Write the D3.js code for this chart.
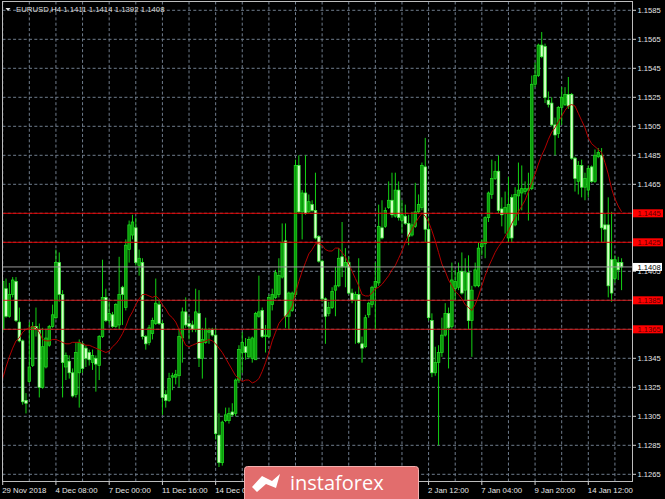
<!DOCTYPE html>
<html><head><meta charset="utf-8">
<script src="https://cdn.jsdelivr.net/npm/d3@7"></script>
<style>html,body{margin:0;padding:0;background:#000;overflow:hidden}svg{display:block}</style>
</head><body>
<svg id="c" width="665" height="499"></svg>
<script>
const title = "EURUSD,H4";
const lastOHLC = ["1.1411", "1.1414", "1.1392", "1.1408"];

const opens = [1.1365,1.1393,1.1374,1.1389,1.1398,1.1370,1.1357,1.1316,1.1329,1.1340,
1.1367,1.1365,1.1325,1.1339,1.1354,1.1367,1.1373,1.1411,1.1389,1.1339,
1.1343,1.1335,1.1320,1.1335,1.1355,1.1352,1.1349,1.1342,1.1345,1.1340,
1.1360,1.1387,1.1371,1.1375,1.1367,1.1368,1.1394,1.1380,1.1420,1.1430,
1.1435,1.1409,1.1411,1.1360,1.1356,1.1362,1.1369,1.1382,1.1369,1.1320,
1.1316,1.1332,1.1332,1.1333,1.1359,1.1377,1.1369,1.1368,1.1365,1.1376,
1.1345,1.1356,1.1363,1.1365,1.1361,1.1292,1.1273,1.1302,1.1302,1.1308,
1.1307,1.1330,1.1349,1.1353,1.1346,1.1345,1.1344,1.1374,1.1378,1.1360,
1.1360,1.1382,1.1387,1.1389,1.1401,1.1426,1.1374,1.1378,1.1389,1.1478,
1.1446,1.1459,1.1446,1.1451,1.1447,1.1429,1.1412,1.1386,1.1376,1.1380,
1.1392,1.1395,1.1415,1.1408,1.1411,1.1390,1.1385,1.1389,1.1355,1.1353,
1.1375,1.1382,1.1394,1.1397,1.1435,1.1436,1.1449,1.1454,1.1443,1.1461,
1.1440,1.1443,1.1438,1.1430,1.1436,1.1446,1.1449,1.1477,1.1434,1.1371,
1.1335,1.1342,1.1349,1.1361,1.1376,1.1367,1.1393,1.1394,1.1405,1.1392,
1.1404,1.1371,1.1395,1.1395,1.1422,1.1424,1.1442,1.1458,1.1469,1.1474,
1.1448,1.1445,1.1428,1.1456,1.1437,1.1457,1.1459,1.1460,1.1461,1.1462,
1.1534,1.1540,1.1561,1.1560,1.1523,1.1521,1.1506,1.1500,1.1518,1.1520,
1.1527,1.1527,1.1483,1.1467,1.1478,1.1463,1.1461,1.1477,1.1467,1.1484,
1.1485,1.1437,1.1437,1.1413,1.1400,1.1411,1.1411];

const highs = [1.1399,1.1400,1.1397,1.1401,1.1401,1.1380,1.1358,1.1321,1.1370,1.1370,
1.1380,1.1369,1.1366,1.1365,1.1368,1.1382,1.1420,1.1418,1.1392,1.1349,
1.1347,1.1338,1.1356,1.1358,1.1356,1.1354,1.1351,1.1351,1.1347,1.1361,
1.1413,1.1393,1.1384,1.1377,1.1383,1.1415,1.1395,1.1427,1.1440,1.1444,
1.1442,1.1420,1.1414,1.1361,1.1368,1.1373,1.1400,1.1385,1.1371,1.1323,
1.1335,1.1335,1.1337,1.1365,1.1380,1.1387,1.1374,1.1371,1.1393,1.1392,
1.1366,1.1373,1.1366,1.1366,1.1366,1.1307,1.1302,1.1311,1.1311,1.1314,
1.1331,1.1354,1.1363,1.1359,1.1360,1.1360,1.1377,1.1402,1.1380,1.1368,
1.1389,1.1393,1.1406,1.1414,1.1438,1.1438,1.1391,1.1391,1.1482,1.1485,
1.1461,1.1485,1.1458,1.1454,1.1473,1.1430,1.1413,1.1387,1.1384,1.1394,
1.1408,1.1421,1.1439,1.1421,1.1415,1.1393,1.1391,1.1414,1.1360,1.1375,
1.1384,1.1395,1.1411,1.1451,1.1454,1.1449,1.1467,1.1473,1.1473,1.1467,
1.1454,1.1451,1.1444,1.1446,1.1466,1.1458,1.1480,1.1497,1.1442,1.1376,
1.1353,1.1354,1.1373,1.1383,1.1380,1.1411,1.1406,1.1411,1.1418,1.1414,
1.1416,1.1395,1.1411,1.1425,1.1427,1.1443,1.1460,1.1482,1.1481,1.1485,
1.1456,1.1460,1.1470,1.1458,1.1463,1.1480,1.1478,1.1467,1.1473,1.1540,
1.1549,1.1562,1.1570,1.1562,1.1529,1.1525,1.1511,1.1519,1.1532,1.1532,
1.1539,1.1528,1.1484,1.1481,1.1482,1.1473,1.1478,1.1478,1.1489,1.1490,
1.1490,1.1445,1.1456,1.1446,1.1416,1.1415,1.1414];

const lows = [1.1363,1.1373,1.1373,1.1387,1.1370,1.1356,1.1313,1.1307,1.1328,1.1339,
1.1360,1.1318,1.1324,1.1338,1.1353,1.1366,1.1372,1.1384,1.1318,1.1330,
1.1331,1.1318,1.1318,1.1311,1.1335,1.1339,1.1340,1.1337,1.1322,1.1330,
1.1359,1.1370,1.1368,1.1366,1.1366,1.1365,1.1368,1.1378,1.1411,1.1427,
1.1409,1.1402,1.1358,1.1351,1.1354,1.1358,1.1368,1.1368,1.1306,1.1311,
1.1315,1.1323,1.1327,1.1325,1.1342,1.1366,1.1358,1.1363,1.1363,1.1339,
1.1331,1.1355,1.1355,1.1360,1.1289,1.1270,1.1271,1.1301,1.1300,1.1305,
1.1305,1.1328,1.1335,1.1344,1.1345,1.1342,1.1344,1.1373,1.1359,1.1349,
1.1359,1.1378,1.1386,1.1387,1.1400,1.1366,1.1365,1.1377,1.1387,1.1445,
1.1427,1.1444,1.1445,1.1446,1.1427,1.1411,1.1384,1.1355,1.1374,1.1379,
1.1374,1.1394,1.1401,1.1394,1.1389,1.1383,1.1355,1.1355,1.1342,1.1352,
1.1373,1.1380,1.1365,1.1395,1.1427,1.1435,1.1448,1.1442,1.1442,1.1440,
1.1431,1.1437,1.1423,1.1429,1.1435,1.1445,1.1447,1.1425,1.1371,1.1332,
1.1333,1.1285,1.1346,1.1360,1.1338,1.1365,1.1385,1.1392,1.1389,1.1385,
1.1365,1.1346,1.1394,1.1394,1.1416,1.1414,1.1439,1.1455,1.1468,1.1445,
1.1436,1.1431,1.1425,1.1425,1.1436,1.1440,1.1447,1.1458,1.1440,1.1461,
1.1532,1.1539,1.1552,1.1521,1.1518,1.1505,1.1485,1.1497,1.1506,1.1519,
1.1517,1.1482,1.1460,1.1458,1.1456,1.1454,1.1456,1.1466,1.1466,1.1483,
1.1425,1.1425,1.1387,1.1384,1.1397,1.1399,1.1392];

const closes = [1.1398,1.1374,1.1389,1.1399,1.1371,1.1357,1.1315,1.1314,1.1339,1.1367,
1.1365,1.1325,1.1353,1.1359,1.1367,1.1375,1.1411,1.1389,1.1342,1.1347,
1.1335,1.1319,1.1349,1.1356,1.1338,1.1345,1.1344,1.1347,1.1341,1.1360,
1.1387,1.1371,1.1376,1.1367,1.1382,1.1389,1.1389,1.1423,1.1437,1.1439,
1.1411,1.1414,1.1360,1.1355,1.1366,1.1371,1.1383,1.1369,1.1318,1.1316,
1.1331,1.1333,1.1334,1.1360,1.1377,1.1368,1.1367,1.1365,1.1377,1.1345,
1.1358,1.1365,1.1364,1.1361,1.1293,1.1273,1.1301,1.1306,1.1307,1.1306,
1.1330,1.1351,1.1356,1.1349,1.1358,1.1359,1.1376,1.1377,1.1360,1.1361,
1.1387,1.1389,1.1404,1.1402,1.1425,1.1374,1.1390,1.1390,1.1478,1.1446,
1.1459,1.1445,1.1453,1.1447,1.1428,1.1412,1.1386,1.1374,1.1380,1.1391,
1.1395,1.1414,1.1408,1.1411,1.1390,1.1385,1.1389,1.1356,1.1352,1.1373,
1.1383,1.1394,1.1398,1.1436,1.1428,1.1447,1.1454,1.1444,1.1461,1.1442,
1.1444,1.1438,1.1429,1.1437,1.1446,1.1451,1.1478,1.1434,1.1373,1.1335,
1.1342,1.1349,1.1361,1.1376,1.1366,1.1399,1.1398,1.1404,1.1390,1.1404,
1.1371,1.1392,1.1406,1.1421,1.1424,1.1442,1.1459,1.1469,1.1474,1.1447,
1.1444,1.1449,1.1451,1.1428,1.1458,1.1461,1.1462,1.1462,1.1462,1.1534,
1.1540,1.1561,1.1553,1.1525,1.1520,1.1506,1.1499,1.1518,1.1525,1.1527,
1.1519,1.1483,1.1469,1.1478,1.1463,1.1469,1.1476,1.1467,1.1485,1.1487,
1.1435,1.1434,1.1395,1.1390,1.1413,1.1406,1.1408];

const movingAverage = [1.1331,1.1339,1.1346,1.1352,1.1357,1.1359,1.1363,1.1365,1.1366,1.1367,
1.1366,1.1363,1.1358,1.1357,1.1357,1.1358,1.1358,1.1357,1.1356,1.1355,
1.1355,1.1356,1.1356,1.1356,1.1355,1.1354,1.1354,1.1353,1.1352,1.1351,
1.1350,1.1349,1.1350,1.1353,1.1355,1.1358,1.1362,1.1367,1.1373,1.1377,
1.1382,1.1386,1.1389,1.1389,1.1388,1.1387,1.1388,1.1386,1.1382,1.1379,
1.1375,1.1373,1.1370,1.1365,1.1359,1.1354,1.1353,1.1354,1.1355,1.1356,
1.1356,1.1357,1.1358,1.1357,1.1355,1.1352,1.1349,1.1345,1.1341,1.1337,
1.1333,1.1331,1.1329,1.1330,1.1330,1.1328,1.1329,1.1331,1.1336,1.1342,
1.1349,1.1357,1.1363,1.1369,1.1372,1.1374,1.1377,1.1381,1.1390,1.1398,
1.1405,1.1411,1.1417,1.1420,1.1424,1.1424,1.1423,1.1420,1.1419,1.1419,
1.1421,1.1421,1.1418,1.1415,1.1410,1.1405,1.1400,1.1395,1.1389,1.1388,
1.1388,1.1390,1.1393,1.1394,1.1396,1.1399,1.1402,1.1406,1.1409,1.1414,
1.1419,1.1425,1.1430,1.1434,1.1438,1.1442,1.1445,1.1443,1.1439,1.1433,
1.1426,1.1418,1.1410,1.1405,1.1399,1.1395,1.1391,1.1389,1.1386,1.1382,
1.1380,1.1378,1.1382,1.1388,1.1395,1.1402,1.1408,1.1413,1.1418,1.1422,
1.1425,1.1429,1.1433,1.1438,1.1442,1.1446,1.1450,1.1454,1.1460,1.1466,
1.1472,1.1479,1.1485,1.1490,1.1496,1.1501,1.1504,1.1508,1.1512,1.1516,
1.1519,1.1520,1.1519,1.1514,1.1509,1.1504,1.1497,1.1493,1.1491,1.1489,
1.1487,1.1480,1.1472,1.1462,1.1455,1.1450,1.1446];

const levelPrices = [1.1445, 1.1425, 1.1385, 1.1365];
const currentPrice = 1.1408;
const priceTicks = [1.1585,1.1565,1.1545,1.1525,1.1505,1.1485,1.1465,1.1445,1.1425,1.1405,
1.1385,1.1365,1.1345,1.1325,1.1305,1.1285,1.1265];
const timeTickBars = [0, 16, 32, 48, 64, 128, 144, 160, 176];
const timeTickLabels = ["29 Nov 2018", "4 Dec 08:00", "7 Dec 00:00", "11 Dec 16:00", "14 Dec 08:00",
  "2 Jan 12:00", "7 Jan 04:00", "9 Jan 20:00", "14 Jan 12:00"];
const watermarkText = "instaforex";

const svg = d3.select("#c");
const P = {l: 2.5, r: 632.5, t: 1.5, b: 481.5};
const x = d3.scaleLinear().domain([0, 176]).range([2.7, 588.3]);
const y = d3.scaleLinear().domain([1.1265, 1.1585]).range([474.3, 10.3]);
const FONT = "'Liberation Sans', Arial, sans-serif";
const nBars = closes.length;

svg.append("rect").attr("width", 665).attr("height", 499).attr("fill", "#000");

const defs = svg.append("defs");
defs.append("clipPath").attr("id", "clip")
  .append("rect").attr("x", P.l).attr("y", P.t).attr("width", P.r - P.l).attr("height", P.b - P.t);
// area of the right axis not covered by the current-price box
defs.append("clipPath").attr("id", "clipAxis")
  .append("rect").attr("x", 633).attr("y", y(currentPrice) + 4).attr("width", 32).attr("height", 499);

const plot = svg.append("g").attr("clip-path", "url(#clip)");

// grid
const gridColor = "#6f7c8c";
const vBars = d3.range(0, nBars + 4, 8);
plot.append("g").selectAll("line").data(vBars).join("line")
  .attr("x1", d => x(d)).attr("x2", d => x(d)).attr("y1", P.t).attr("y2", P.b)
  .attr("stroke", gridColor).attr("stroke-width", 1).attr("stroke-dasharray", "3,2.3");
plot.append("g").selectAll("line").data(priceTicks).join("line")
  .attr("x1", P.l).attr("x2", P.r).attr("y1", d => y(d)).attr("y2", d => y(d))
  .attr("stroke", gridColor).attr("stroke-width", 1).attr("stroke-dasharray", "3,2.3");

// candles
const bars = d3.range(nBars).map(i => ({i, o: opens[i], h: highs[i], l: lows[i], c: closes[i]}));
const bw = 2.6;
plot.append("g").selectAll("line").data(bars).join("line")
  .attr("x1", d => x(d.i)).attr("x2", d => x(d.i))
  .attr("y1", d => y(d.h)).attr("y2", d => y(d.l))
  .attr("stroke", "#14d214").attr("stroke-width", 1);
plot.append("g").selectAll("rect").data(bars).join("rect")
  .attr("x", d => x(d.i) - bw / 2)
  .attr("y", d => y(Math.max(d.o, d.c)))
  .attr("width", bw)
  .attr("height", d => Math.max(1, Math.abs(y(d.o) - y(d.c))))
  .attr("fill", d => d.c >= d.o ? "#0a9a0a" : "#d6ffc6")
  .attr("stroke", d => d.c >= d.o ? "#22e022" : "#3cf03c")
  .attr("stroke-width", 0.7);

// moving average
plot.append("path").datum(movingAverage)
  .attr("d", d3.line().x((d, i) => x(i)).y(d => y(d)))
  .attr("fill", "none").attr("stroke", "#b40000").attr("stroke-width", 1);

// horizontal levels
plot.append("g").selectAll("line").data(levelPrices).join("line")
  .attr("x1", P.l).attr("x2", P.r).attr("y1", d => y(d)).attr("y2", d => y(d))
  .attr("stroke", (d, i) => i < 2 ? "#e00000" : "#c81818").attr("stroke-width", 1);
plot.append("line").attr("x1", P.l).attr("x2", P.r).attr("y1", y(currentPrice)).attr("y2", y(currentPrice))
  .attr("stroke", "#9a9a9a").attr("stroke-width", 1);

// frame
svg.append("rect").attr("x", P.l).attr("y", P.t).attr("width", P.r - P.l).attr("height", P.b - P.t)
  .attr("fill", "none").attr("stroke", "#bdbdbd").attr("stroke-width", 1);

// right axis
const ra = svg.append("g");
ra.selectAll("line").data(priceTicks).join("line")
  .attr("x1", P.r).attr("x2", P.r + 3.5).attr("y1", d => y(d)).attr("y2", d => y(d))
  .attr("stroke", "#d0d0d0");
const hiddenTick = priceTicks.filter(p => Math.abs(p - currentPrice) < 0.0006);
ra.selectAll("text.t").data(priceTicks.filter(p => !hiddenTick.includes(p))).join("text")
  .attr("class", "t")
  .attr("x", 637.5).attr("y", d => y(d) + 2.8)
  .attr("fill", "#e6e6e6").attr("font-family", FONT).attr("font-size", 7.6)
  .text(d => d.toFixed(4));
// tick label partly hidden under the current price box: only its lower edge shows
ra.append("g").attr("clip-path", "url(#clipAxis)").selectAll("text").data(hiddenTick).join("text")
  .attr("x", 637.5).attr("y", d => y(d) + 2.8)
  .attr("fill", "#e6e6e6").attr("font-family", FONT).attr("font-size", 7.6)
  .text(d => d.toFixed(4));

// level labels
const lab = svg.append("g");
levelPrices.forEach(p => {
  lab.append("rect").attr("x", 633).attr("y", y(p) - 4).attr("width", 30).attr("height", 8).attr("fill", "#ff0000");
  lab.append("text").attr("x", 637.5).attr("y", y(p) + 2.8).attr("fill", "#5a0000")
    .attr("font-family", FONT).attr("font-size", 7.6).text(p.toFixed(4));
});
lab.append("rect").attr("x", 633).attr("y", y(currentPrice) - 4).attr("width", 29).attr("height", 8).attr("fill", "#ffffff");
lab.append("text").attr("x", 637.5).attr("y", y(currentPrice) + 2.8).attr("fill", "#000")
  .attr("font-family", FONT).attr("font-size", 7.6).text(currentPrice.toFixed(4));

// bottom axis
const ba = svg.append("g");
ba.selectAll("line").data(timeTickBars).join("line")
  .attr("x1", d => x(d)).attr("x2", d => x(d)).attr("y1", P.b).attr("y2", P.b + 3.5)
  .attr("stroke", "#d0d0d0");
ba.selectAll("text").data(timeTickBars).join("text")
  .attr("x", d => x(d) - 0.5).attr("y", 492.5)
  .attr("fill", "#e6e6e6").attr("font-family", FONT).attr("font-size", 7.8)
  .text((d, i) => timeTickLabels[i]);

// header
svg.append("path").attr("d", "M5.5,8 L10.5,8 L8,11 Z").attr("fill", "#e0e0e0");
svg.append("text").attr("x", 16).attr("y", 12).attr("fill", "#dcdcdc")
  .attr("font-family", FONT).attr("font-size", 7.8)
  .text(title + "  " + lastOHLC.join(" "));

// watermark
const wm = svg.append("g");
wm.append("rect").attr("x", 244.5).attr("y", 466.5).attr("width", 174).attr("height", 40).attr("rx", 3)
  .attr("fill", "#e26d6d").attr("stroke", "#f2b0b0").attr("stroke-width", 1);
wm.append("path").attr("d", "M252,487 L262,476 L272,481 L280,474 L276,488 L266,484 L257,492 Z").attr("fill", "#ffffff");
wm.append("text").attr("x", 290).attr("y", 490).attr("fill", "#ffffff")
  .attr("font-family", "'Open Sans', 'Noto Sans', sans-serif").attr("font-size", 20).text(watermarkText);
</script>
</body></html>
